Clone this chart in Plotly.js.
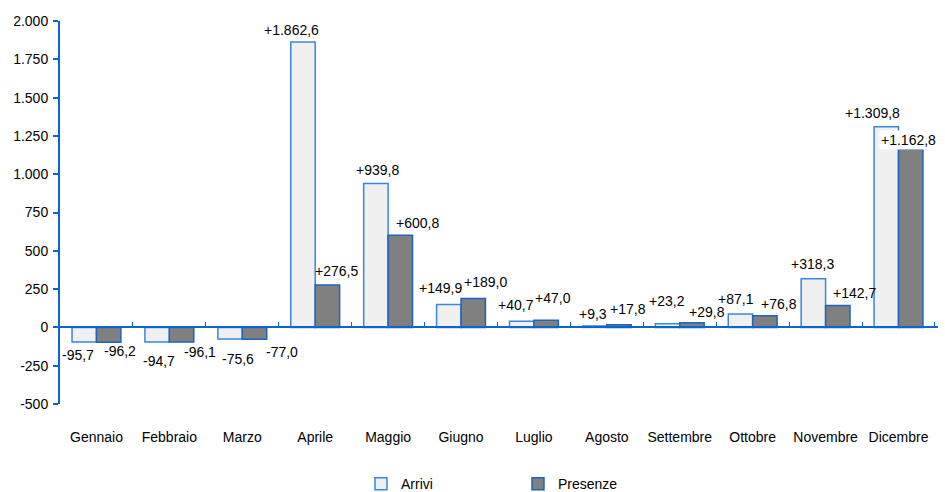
<!DOCTYPE html>
<html>
<head>
<meta charset="utf-8">
<script src="https://cdn.plot.ly/plotly-3.0.1.min.js"></script>
<style>
  body { margin: 0; background: #fff; }
  #chart { width: 945px; height: 492px; }
</style>
</head>
<body>
<div id="chart"></div>
<script>
// Months
const mesi = ["Gennaio", "Febbraio", "Marzo", "Aprile", "Maggio", "Giugno",
              "Luglio", "Agosto", "Settembre", "Ottobre", "Novembre", "Dicembre"];

const arrivi = [-95.7, -94.7, -75.6, 1862.6, 939.8, 149.9, 40.7, 9.3, 23.2, 87.1, 318.3, 1309.8];
const presenze = [-96.2, -96.1, -77.0, 276.5, 600.8, 189.0, 47.0, 17.8, 29.8, 76.8, 142.7, 1162.8];

const yTicks = [-500, -250, 0, 250, 500, 750, 1000, 1250, 1500, 1750, 2000];

// label offsets in px (x from category centre, y from bar end) - manual placement like the original
const arriviShift = [[-18, -13], [-10, -19], [-4, -20], [-24, 12], [-11, 13], [-21, 16],
                     [-18, 16], [-14, 12], [-13, 23], [-17, 15], [-13, 15], [-26, 14]];
const presenzeShift = [[24, -9], [31, -10], [40, -13], [21, 14], [29, 12], [24, 16],
                       [19, 22], [21, 16], [27, 11], [26, 12], [29, 13], [10, 9]];

const blu = "#0a66cc";
const fontName = "Liberation Sans, Arial, sans-serif";

// italian number format with sign: +1.862,6
function fmt(v) {
    let s = Math.abs(v).toFixed(1).split(".");
    let int = s[0].replace(/\B(?=(\d{3})+(?!\d))/g, ".");
    return (v < 0 ? "-" : "+") + int + "," + s[1];
}
function fmtTick(v) {
    return (v < 0 ? "-" : "") + String(Math.abs(v)).replace(/\B(?=(\d{3})+(?!\d))/g, ".");
}

const traceArrivi = {
    type: "bar",
    name: "Arrivi",
    x: mesi,
    y: arrivi,
    marker: { color: "#f0f0f0", line: { color: "#3a86dc", width: 1.5 } },
    hoverinfo: "skip"
};
const tracePresenze = {
    type: "bar",
    name: "Presenze",
    x: mesi,
    y: presenze,
    marker: { color: "#808080", line: { color: "#1f63c0", width: 1.5 } },
    hoverinfo: "skip"
};
// invisible trace so the zero-line axis gets drawn
const traceZero = {
    type: "scatter",
    mode: "none",
    x: mesi,
    y: mesi.map(() => 0),
    xaxis: "x2",
    showlegend: false,
    hoverinfo: "skip"
};

let annotations = [];
mesi.forEach((m, i) => {
    annotations.push({
        x: m, y: arrivi[i], xref: "x", yref: "y",
        text: fmt(arrivi[i]), showarrow: false,
        xshift: arriviShift[i][0], yshift: arriviShift[i][1],
        font: { family: fontName, size: 14, color: "#000" }
    });
    annotations.push({
        x: m, y: presenze[i], xref: "x", yref: "y",
        text: fmt(presenze[i]), showarrow: false,
        xshift: presenzeShift[i][0], yshift: presenzeShift[i][1],
        bgcolor: i === 11 ? "#ffffff" : "rgba(0,0,0,0)",
        font: { family: fontName, size: 14, color: "#000" }
    });
});

const layout = {
    width: 945,
    height: 492,
    margin: { l: 60, r: 7, t: 21, b: 88 },
    paper_bgcolor: "#fff",
    plot_bgcolor: "#fff",
    font: { family: fontName, size: 14, color: "#000" },
    barmode: "group",
    bargap: 0.33,
    bargroupgap: 0,
    showlegend: true,
    legend: {
        orientation: "h",
        xref: "container",
        yref: "container",
        x: 0.382, xanchor: "left",
        y: 0.016, yanchor: "middle",
        font: { size: 14 },
        traceorder: "normal",
        entrywidth: 112
    },
    xaxis: {
        type: "category",
        showline: false,
        showgrid: false,
        zeroline: false,
        ticks: "",
        ticklabelstandoff: 23,
        tickfont: { size: 14 }
    },
    xaxis2: {
        type: "category",
        overlaying: "x",
        matches: "x",
        anchor: "free",
        position: 0.2,
        showline: true,
        linecolor: blu,
        linewidth: 2,
        ticks: "inside",
        tickson: "boundaries",
        ticklen: 4,
        tickcolor: blu,
        tickwidth: 1,
        showticklabels: false,
        showgrid: false,
        zeroline: false
    },
    yaxis: {
        range: [-500, 2000],
        tickvals: yTicks,
        ticktext: yTicks.map(fmtTick),
        showline: true,
        linecolor: blu,
        linewidth: 2,
        ticks: "outside",
        ticklen: 5,
        tickcolor: blu,
        tickwidth: 2,
        ticklabelstandoff: 2,
        showgrid: false,
        zeroline: false,
        tickfont: { size: 14 }
    },
    annotations: annotations
};

Plotly.newPlot("chart", [traceArrivi, tracePresenze, traceZero], layout, { displayModeBar: false, staticPlot: true });
</script>
</body>
</html>
